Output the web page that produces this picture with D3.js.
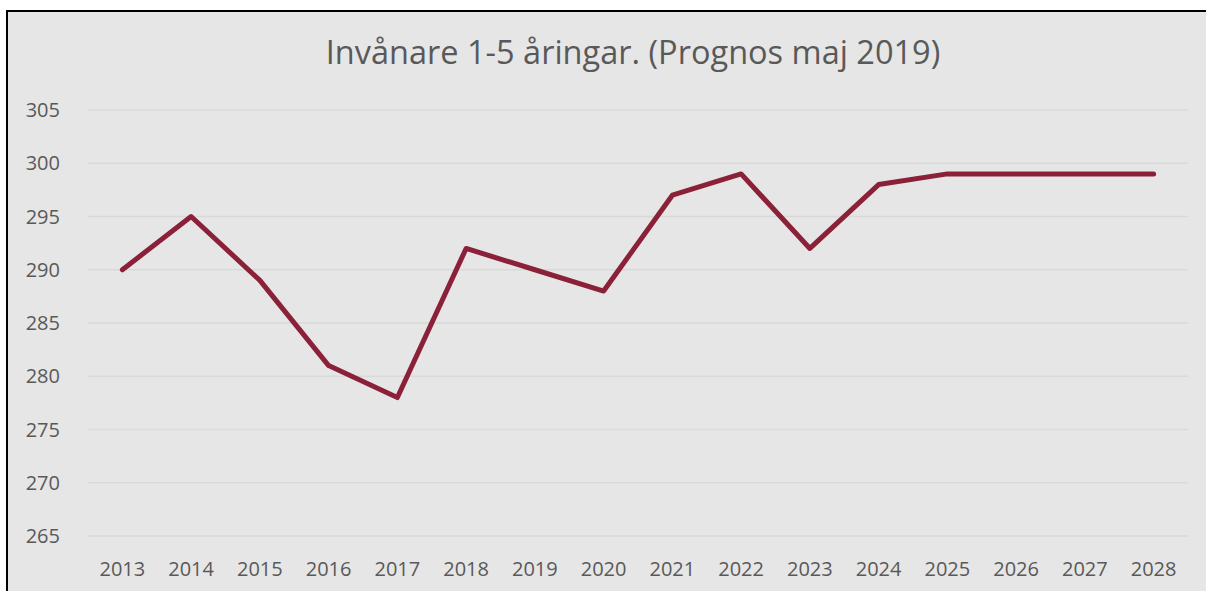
<html>
<style>
  body { margin: 0; background: #fff; }
  text { font-family: "Open Sans", sans-serif; fill: #595959; }
  .grid line { stroke: #d9d9d9; stroke-width: 1.5; }
</style>
<body>
  <svg id="chart"></svg>
</body>
</html>
<script src="https://d3js.org/d3.v7.min.js"></script>
<script type="text/javascript">
  // data
  var years = ["2013","2014","2015","2016","2017","2018","2019","2020","2021","2022","2023","2024","2025","2026","2027","2028"];
  var values = [290, 295, 289, 281, 278, 292, 290, 288, 297, 299, 292, 298, 299, 299, 299, 299];
  var yTicks = [265, 270, 275, 280, 285, 290, 295, 300, 305];
  var title = "Invånare 1-5 åringar. (Prognos maj 2019)";

  var W = 1206, H = 591;
  var svg = d3.select("#chart").attr("width", W).attr("height", H);

  // chart area with frame on left and top
  svg.append("rect").attr("x", 7).attr("y", 11).attr("width", W - 7).attr("height", H - 11)
    .attr("fill", "#e6e6e6");
  svg.append("line").attr("x1", 7).attr("y1", 11).attr("x2", W).attr("y2", 11)
    .attr("stroke", "#000").attr("stroke-width", 2);
  svg.append("line").attr("x1", 7).attr("y1", 10).attr("x2", 7).attr("y2", H)
    .attr("stroke", "#000").attr("stroke-width", 2);

  var plotLeft = 88, plotRight = 1188, plotTop = 110, plotBottom = 536;

  var x = d3.scaleBand().domain(years).range([plotLeft, plotRight]);
  var y = d3.scaleLinear().domain([265, 305]).range([plotBottom, plotTop]);

  svg.append("g").attr("class", "grid")
    .selectAll("line").data(yTicks).enter().append("line")
    .attr("x1", plotLeft).attr("x2", plotRight)
    .attr("y1", function(d) { return y(d); }).attr("y2", function(d) { return y(d); });

  svg.append("g").selectAll("text").data(yTicks).enter().append("text")
    .attr("x", 60).attr("y", function(d) { return y(d) + 7; })
    .attr("text-anchor", "end").attr("font-size", 20)
    .text(function(d) { return d; });

  svg.append("g").selectAll("text").data(years).enter().append("text")
    .attr("x", function(d) { return x(d) + x.bandwidth() / 2; })
    .attr("y", 576)
    .attr("text-anchor", "middle").attr("font-size", 20)
    .text(function(d) { return d; });

  var line = d3.line()
    .x(function(d, i) { return x(years[i]) + x.bandwidth() / 2; })
    .y(function(d) { return y(d); });

  svg.append("path").datum(values)
    .attr("d", line)
    .attr("fill", "none")
    .attr("stroke", "#8b2139")
    .attr("stroke-width", 5)
    .attr("stroke-linejoin", "round")
    .attr("stroke-linecap", "round");

  svg.append("text")
    .attr("x", 633).attr("y", 64)
    .attr("text-anchor", "middle").attr("font-size", 32.5)
    .text(title);
</script>
